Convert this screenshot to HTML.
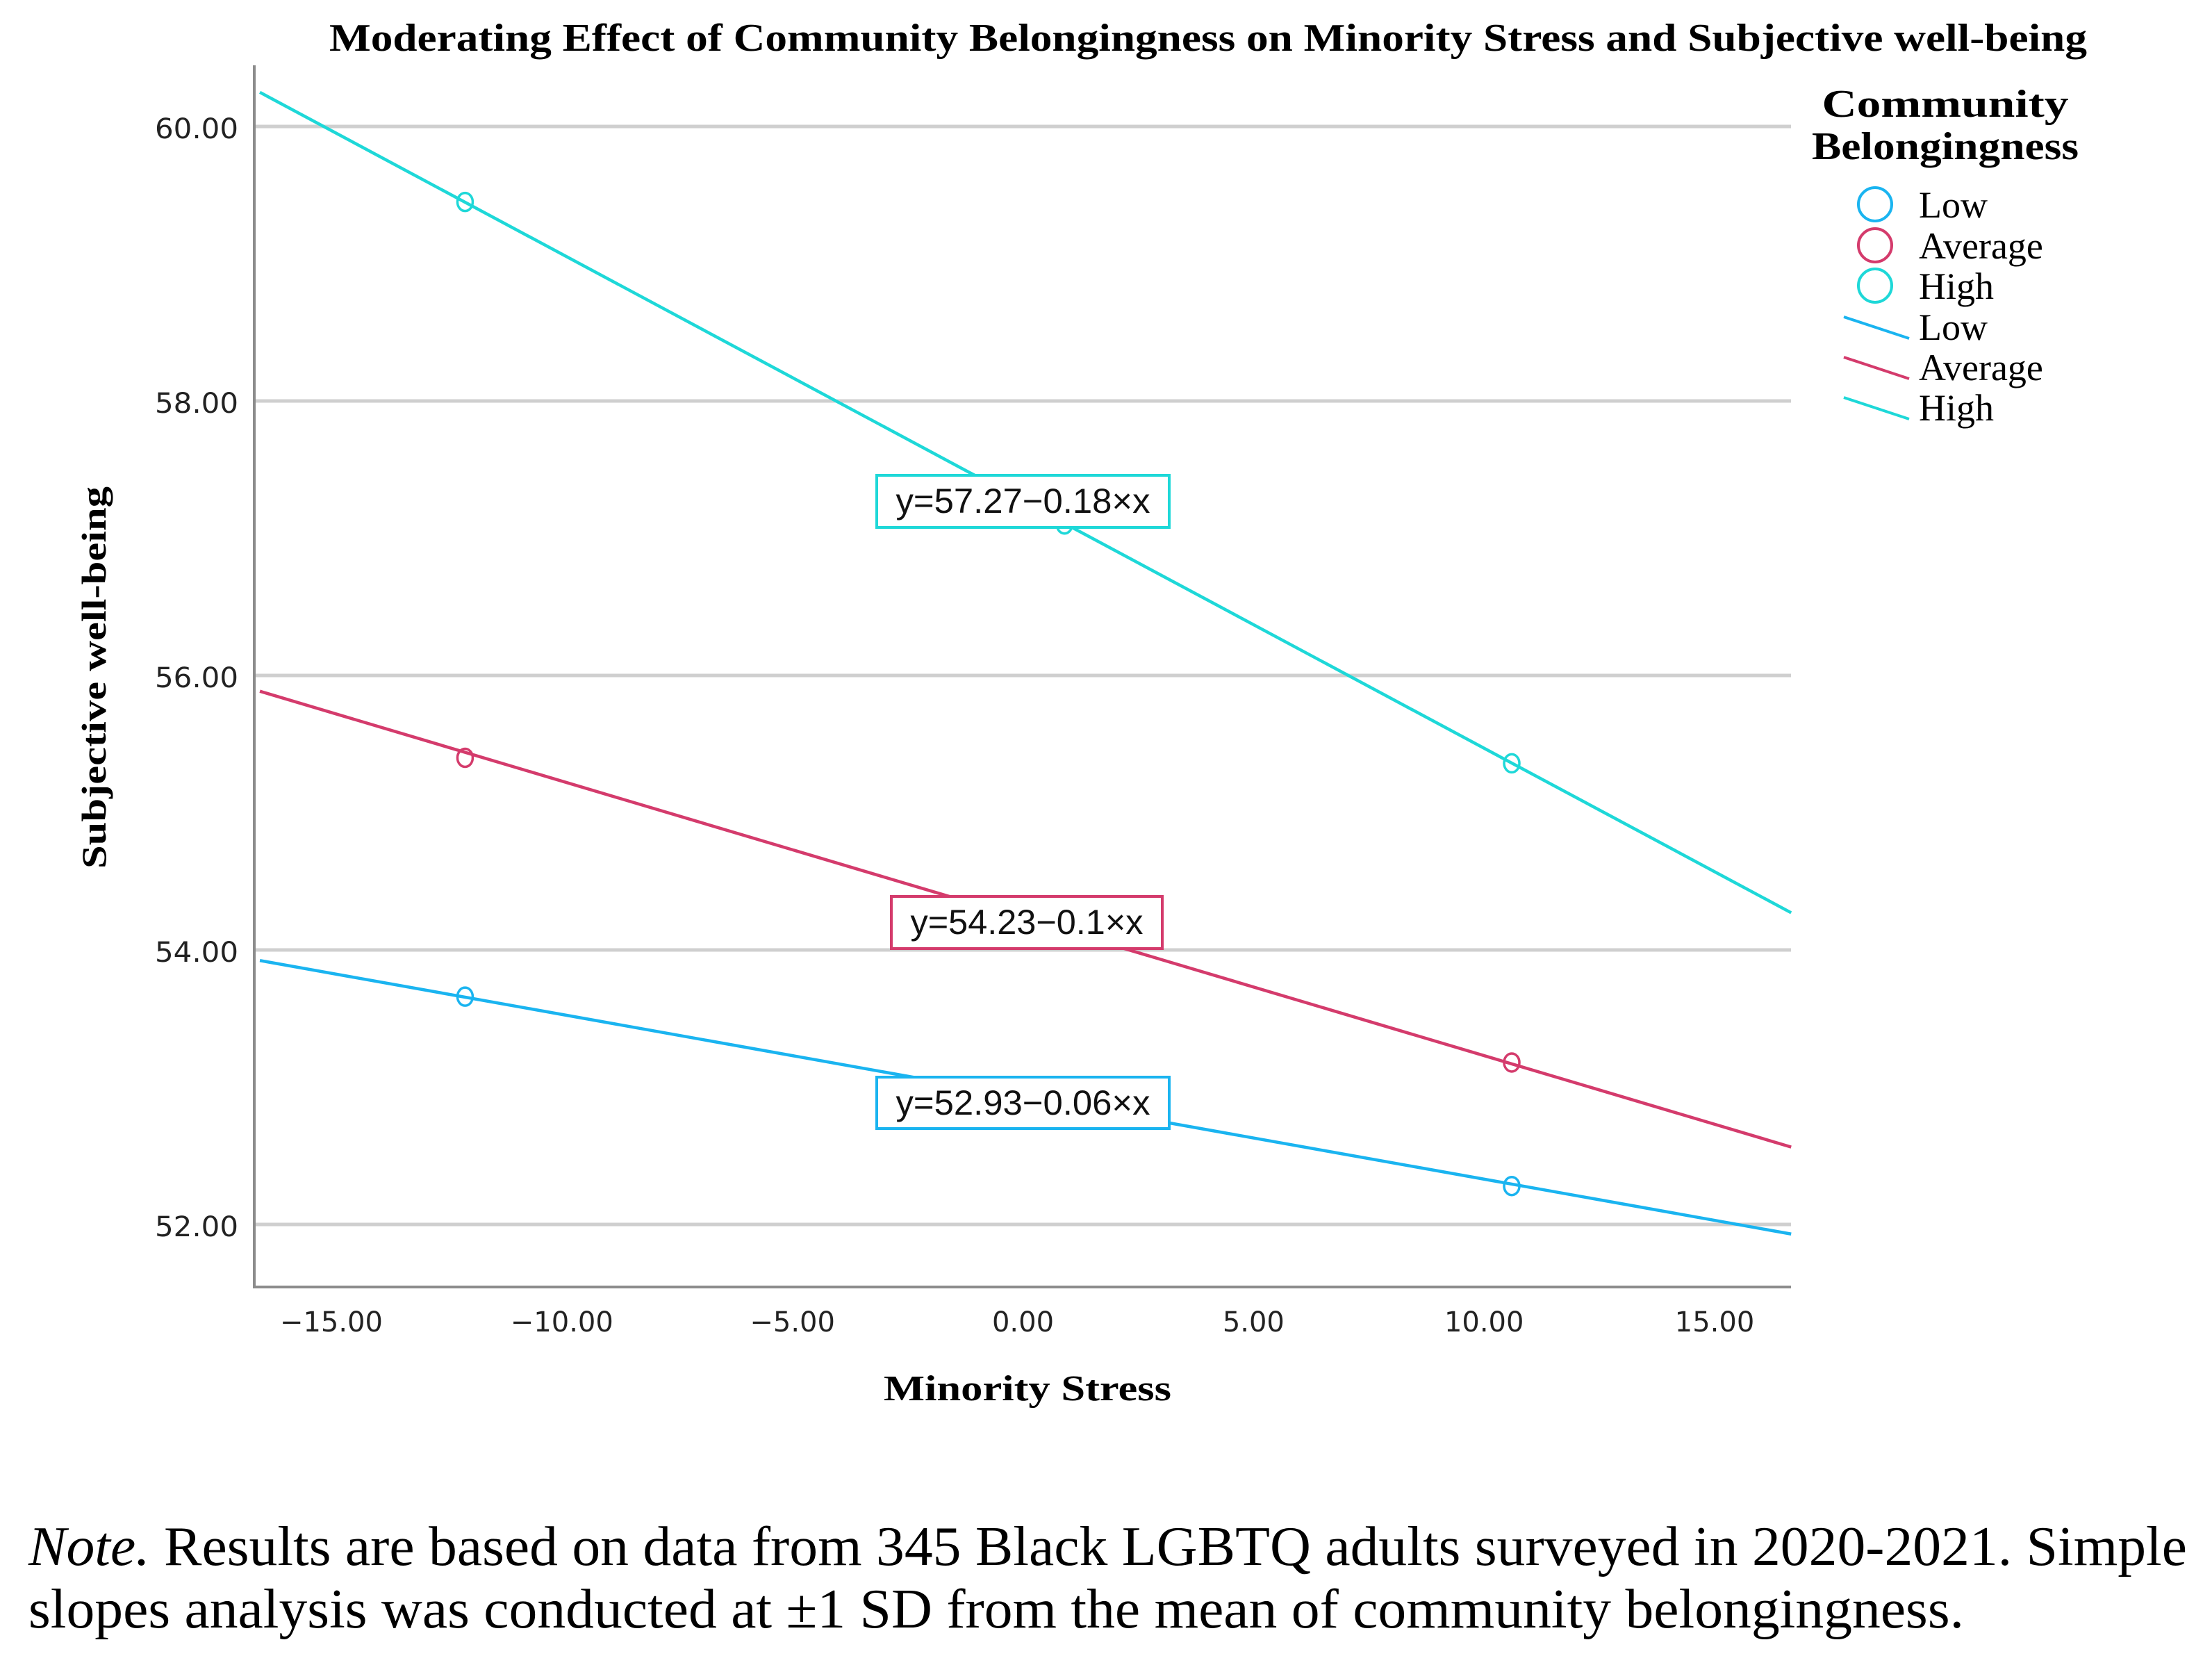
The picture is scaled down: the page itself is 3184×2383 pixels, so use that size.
<!DOCTYPE html>
<html><head><meta charset="utf-8"><style>
html,body{margin:0;padding:0;background:#fff;}
svg{display:block;}
</style></head><body>
<svg id="chart" width="3184" height="2383" viewBox="0 0 3184 2383" xmlns="http://www.w3.org/2000/svg">
<rect x="0" y="0" width="3184" height="2383" fill="#fff"/>
<text x="1739" y="73" text-anchor="middle" font-family="Liberation Serif, serif" font-weight="bold" font-size="56" textLength="2530" lengthAdjust="spacingAndGlyphs">Moderating Effect of Community Belongingness on Minority Stress and Subjective well-being</text>
<g id="grid"></g>
<g id="yticks"></g>
<g id="xticks"></g>
<line x1="366" y1="94" x2="366" y2="1853" stroke="#8c8c8c" stroke-width="4"/>
<line x1="364" y1="1852" x2="2578" y2="1852" stroke="#8c8c8c" stroke-width="4"/>
<g id="series"></g>
<g id="points"></g>
<g id="labels"></g>
<text transform="translate(152,975) rotate(-90)" text-anchor="middle" font-family="Liberation Serif, serif" font-weight="bold" font-size="50" textLength="550" lengthAdjust="spacingAndGlyphs">Subjective well-being</text>
<text x="1479" y="2015" text-anchor="middle" font-family="Liberation Serif, serif" font-weight="bold" font-size="52" textLength="414" lengthAdjust="spacingAndGlyphs">Minority Stress</text>
<g font-family="Liberation Serif, serif">
<text x="2800" y="168" text-anchor="middle" font-weight="bold" font-size="56" textLength="355" lengthAdjust="spacingAndGlyphs">Community</text>
<text x="2800" y="229" text-anchor="middle" font-weight="bold" font-size="56" textLength="384" lengthAdjust="spacingAndGlyphs">Belongingness</text>
<g><circle cx="2699" cy="294" r="24" fill="none" stroke="#1ab4f0" stroke-width="4"/><text x="2762" y="313" font-size="54">Low</text></g>
<g><circle cx="2699" cy="353" r="24" fill="none" stroke="#d43b6c" stroke-width="4"/><text x="2762" y="372" font-size="54">Average</text></g>
<g><circle cx="2699" cy="411" r="24" fill="none" stroke="#1ed8d8" stroke-width="4"/><text x="2762" y="430" font-size="54">High</text></g>
<g><line x1="2654" y1="456" x2="2748" y2="487" stroke="#1ab4f0" stroke-width="4"/><text x="2762" y="489" font-size="54">Low</text></g>
<g><line x1="2654" y1="514" x2="2748" y2="545" stroke="#d43b6c" stroke-width="4"/><text x="2762" y="547" font-size="54">Average</text></g>
<g><line x1="2654" y1="572" x2="2748" y2="603" stroke="#1ed8d8" stroke-width="4"/><text x="2762" y="605" font-size="54">High</text></g>
</g>
<g font-family="Liberation Serif, serif" font-size="80">
<text x="41" y="2252" textLength="3107" lengthAdjust="spacingAndGlyphs"><tspan font-style="italic">Note.</tspan> Results are based on data from 345 Black LGBTQ adults surveyed in 2020-2021. Simple</text>
<text x="41" y="2342" textLength="2786" lengthAdjust="spacingAndGlyphs">slopes analysis was conducted at ±1 SD from the mean of community belongingness.</text>
</g>
</svg>
<script>
const yTicks = [52, 54, 56, 58, 60];
const yTickLabels = ["52.00", "54.00", "56.00", "58.00", "60.00"];
const xTicks = [-15, -10, -5, 0, 5, 10, 15];
const xTickLabels = ["\u221215.00", "\u221210.00", "\u22125.00", "0.00", "5.00", "10.00", "15.00"];
const seriesNames = ["Low", "Average", "High"];
const intercepts = [52.93, 54.23, 57.27];
const slopes = [-0.06, -0.1, -0.18];
const equationLabels = ["y=52.93\u22120.06\u00d7x", "y=54.23\u22120.1\u00d7x", "y=57.27\u22120.18\u00d7x"];
const pointX = [-12.1, 0.9, 10.6];
const lowPoints = [53.66, 52.88, 52.28];
const averagePoints = [55.40, 54.14, 53.18];
const highPoints = [59.45, 57.10, 55.36];
const xMin = -16.55, xMax = 16.66;

const colors = ["#1ab4f0", "#d43b6c", "#1ed8d8"];
const NS = "http://www.w3.org/2000/svg";
function xs(v){ return 1472.5 + v * 66.37; }
function ys(v){ return 182 + (60 - v) * 197.5; }
function mk(tag, attrs, parent){ const e = document.createElementNS(NS, tag); for (const k in attrs) e.setAttribute(k, attrs[k]); parent.appendChild(e); return e; }

const grid = document.getElementById('grid');
const yt = document.getElementById('yticks');
yTicks.forEach((v, i) => {
  const g = mk('line', {x1: 366, x2: 2578, y1: ys(v), y2: ys(v), stroke: '#cfcfcf', 'stroke-width': 5}, grid);
  
  
  const t = mk('text', {x: 343, y: ys(v) + 17, 'text-anchor': 'end', 'font-family': 'DejaVu Sans, sans-serif', 'font-size': 40, textLength: 120, lengthAdjust: 'spacingAndGlyphs', fill: '#222'}, yt);
  t.textContent = yTickLabels[i];
  
  
});
const xt = document.getElementById('xticks');
xTicks.forEach((v, i) => {
  const t = mk('text', {x: xs(v), y: 1916, 'text-anchor': 'middle', 'font-family': 'DejaVu Sans, sans-serif', 'font-size': 40, fill: '#222'}, xt);
  t.textContent = xTickLabels[i];
  
  
});

const sg = document.getElementById('series');
const pg = document.getElementById('points');
const allPoints = [lowPoints, averagePoints, highPoints];
seriesNames.forEach((n, i) => {
  const l = mk('line', {x1: xs(xMin), y1: ys(intercepts[i] + slopes[i] * xMin), x2: xs(xMax), y2: ys(intercepts[i] + slopes[i] * xMax), stroke: colors[i], 'stroke-width': 4.5}, sg);
  
  
  allPoints[i].forEach((v, j) => {
    const c = mk('ellipse', {cx: xs(pointX[j]), cy: ys(v), rx: 11, ry: 13, fill: 'none', stroke: colors[i], 'stroke-width': 3.5}, pg);
    
    
  });
});

const lg = document.getElementById('labels');
const boxes = [[1262, 1550, 421, 74], [1283, 1290, 390, 75], [1262, 684, 421, 75]];
equationLabels.forEach((s, i) => {
  const b = boxes[i];
  const r = mk('rect', {x: b[0], y: b[1], width: b[2], height: b[3], fill: '#fff', stroke: colors[i], 'stroke-width': 4}, lg);
  
  
  const t = mk('text', {x: b[0] + b[2] / 2, y: b[1] + 54, 'text-anchor': 'middle', 'font-family': 'Liberation Sans, sans-serif', 'font-size': 50, textLength: b[2] - 55, lengthAdjust: 'spacingAndGlyphs', fill: '#111'}, lg);
  t.textContent = s;
  
  
});
</script>
</body></html>
